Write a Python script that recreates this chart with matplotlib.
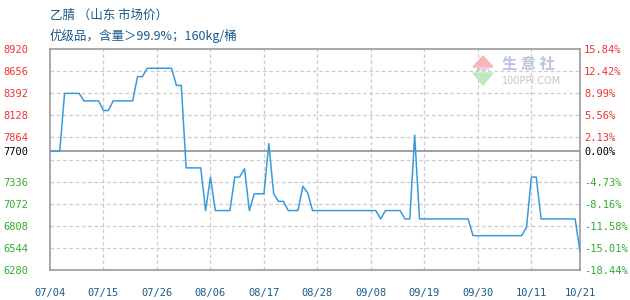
import matplotlib
matplotlib.use("Agg")
import matplotlib.pyplot as plt
from matplotlib.patches import Polygon
import numpy as np

# ---- data ----
start_date = np.datetime64("2023-07-04")
day_offsets = [0, 2, 3, 6, 7, 10, 11, 12, 13, 17, 18, 19, 20, 25, 26, 27, 28, 31,
               32, 33, 34, 37, 38, 39, 40, 41, 42, 44, 45, 46, 47, 48, 49, 51,
               52, 53, 54, 67, 68, 69, 72, 73, 74, 75, 76, 86, 87, 97, 98, 99,
               100, 101, 108, 109]
prices = [7700, 7700, 8390, 8390, 8300, 8300, 8185, 8185, 8300, 8300, 8590, 8590,
          8690, 8690, 8485, 8485, 7500, 7500, 6990, 7390, 6990, 6990, 7390, 7390,
          7490, 6990, 7190, 7190, 7790, 7190, 7100, 7100, 6990, 6990, 7280, 7200,
          6990, 6990, 6890, 6990, 6990, 6890, 6890, 7890, 6890, 6890, 6690, 6690,
          6790, 7390, 7390, 6890, 6890, 6500]
base_price = 7700
x_tick_days = [0, 11, 22, 33, 44, 55, 66, 77, 88, 99, 109]
x_tick_labels = ["07/04", "07/15", "07/26", "08/06", "08/17", "08/28",
                 "09/08", "09/19", "09/30", "10/11", "10/21"]
grid_values = [6280, 6544, 6808, 7072, 7336, 7600, 7864, 8128, 8392, 8656, 8920]
left_tick_values = [6280, 6544, 6808, 7072, 7336, 7700, 7864, 8128, 8392, 8656, 8920]
left_tick_labels = ["6280", "6544", "6808", "7072", "7336", "7700", "7864",
                    "8128", "8392", "8656", "8920"]
right_tick_labels = ["-18.44%", "-15.01%", "-11.58%", "-8.16%", "-4.73%", "0.00%",
                     "2.13%", "5.56%", "8.99%", "12.42%", "15.84%"]
title_line1 = "乙腈 （山东 市场价）"
title_line2 = "优级品，含量＞99.9%；160kg/桶"

dates = start_date + np.array(day_offsets).astype("timedelta64[D]")
tick_dates = start_date + np.array(x_tick_days).astype("timedelta64[D]")

RED = "#ee3333"
GREEN = "#33aa33"
BLACK = "#000000"
TITLE_C = "#1a5a8a"
LINE_C = "#3a9ad9"
FRAME_C = "#999999"
GRID_C = "#cccccc"

fig = plt.figure(figsize=(6.3, 3.0), dpi=100)
fig.patch.set_facecolor("white")
ax = fig.add_axes([50/630, 30/300, 530/630, 221/300])
ymin, ymax = grid_values[0], grid_values[-1]
ax.set_ylim(ymin, ymax)
ax.set_xlim(dates[0], tick_dates[-1])

for g in grid_values:
    if g in (ymin, ymax):
        continue
    ax.axhline(g, color=GRID_C, lw=0.9, ls=(0, (3, 2)), zorder=1)
for t in tick_dates[1:-1]:
    ax.axvline(t, color=GRID_C, lw=0.9, ls=(0, (3, 2)), zorder=1)
ax.axhline(base_price, color=FRAME_C, lw=1.3, zorder=2)

ax.plot(dates, prices, color=LINE_C, lw=1.1, zorder=3)

for s in ax.spines.values():
    s.set_color(FRAME_C)
    s.set_linewidth(1.2)

mono = "DejaVu Sans Mono"
ax.set_xticks(tick_dates)
ax.set_xticklabels(x_tick_labels, fontsize=7.5, family=mono, color=TITLE_C)
ax.set_yticks(left_tick_values)
ax.set_yticklabels(left_tick_labels, fontsize=7.5, family=mono)
ax.tick_params(axis="both", length=0)
ax.tick_params(axis="x", pad=13)
ax.tick_params(axis="y", pad=15.5)
for lbl, v in zip(ax.get_yticklabels(), left_tick_values):
    lbl.set_color(RED if v > base_price else (GREEN if v < base_price else BLACK))

ax2 = ax.twinx()
ax2.set_ylim(ymin, ymax)
ax2.set_yticks(left_tick_values)
ax2.set_yticklabels(right_tick_labels, fontsize=7.5, family=mono)
ax2.tick_params(axis="y", length=0, pad=3)
for s in ax2.spines.values():
    s.set_visible(False)
for lbl, v in zip(ax2.get_yticklabels(), left_tick_values):
    lbl.set_color(RED if v > base_price else (GREEN if v < base_price else BLACK))

cjk = ["Noto Sans CJK SC", "DejaVu Sans"]
fig.text(50/630, 1 - 15/300, title_line1, family=cjk, fontsize=9, color=TITLE_C,
         va="center", ha="left")
fig.text(50/630, 1 - 36/300, title_line2, family=cjk, fontsize=9, color=TITLE_C,
         va="center", ha="left")

# watermark
def fx(px):
    return px / 630
def fy(py):
    return 1 - py / 300
fig.patches.append(Polygon([[fx(473), fy(67)], [fx(493), fy(67)], [fx(483), fy(56)]],
                           closed=True, transform=fig.transFigure, color="#f4b8b8", zorder=0))
fig.patches.append(Polygon([[fx(473), fy(73)], [fx(493), fy(73)], [fx(483), fy(85)]],
                           closed=True, transform=fig.transFigure, color="#bfe8bf", zorder=0))
fig.text(fx(483), fy(70), "100PPI", fontsize=3, color="#8a9ab8", ha="center", va="center")
fig.text(fx(502), fy(64), "生 意 社", family=cjk, fontsize=11, color="#b8c4dc",
         ha="left", va="center", fontweight="bold")
fig.text(fx(502), fy(81), "100PPI.COM", fontsize=7, color="#c4c4c4", ha="left", va="center")

fig.savefig("out.png", dpi=100, facecolor="white")
